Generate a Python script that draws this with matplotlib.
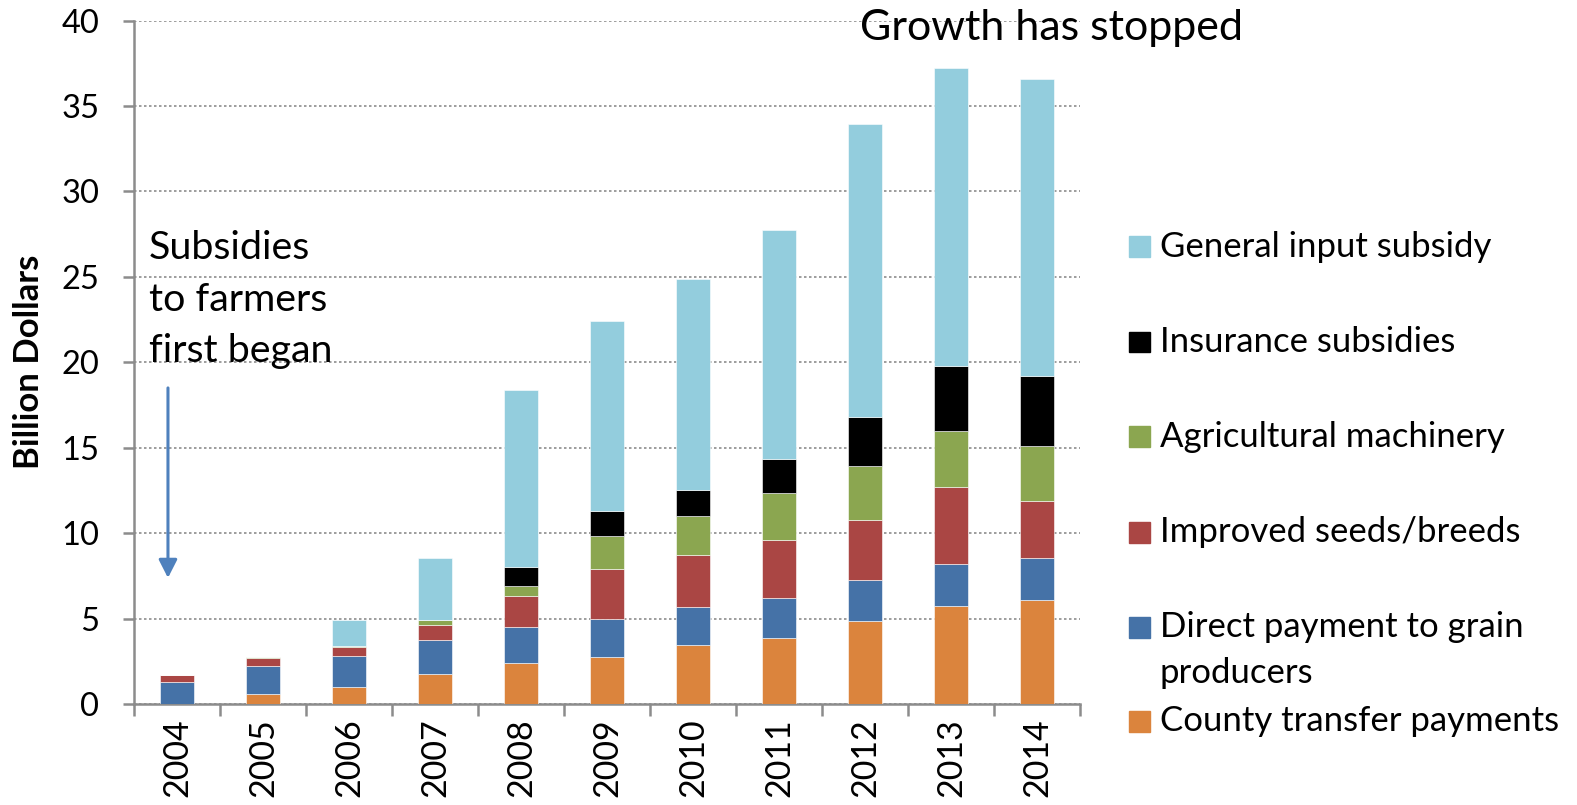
import matplotlib
matplotlib.use("Agg")
import matplotlib.pyplot as plt
import numpy as np
from matplotlib.patches import Rectangle

plt.rcParams['font.family'] = ['Lato', 'DejaVu Sans']

# Datos (bilhoes de dolares)
anos = ["2004", "2005", "2006", "2007", "2008", "2009", "2010", "2011", "2012", "2013", "2014"]
county = [0.0, 0.60, 1.01, 1.77, 2.38, 2.77, 3.47, 3.88, 4.88, 5.74, 6.11]
direct = [1.31, 1.62, 1.78, 2.00, 2.15, 2.22, 2.23, 2.34, 2.39, 2.46, 2.46]
seeds = [0.39, 0.45, 0.53, 0.87, 1.79, 2.91, 3.04, 3.40, 3.50, 4.49, 3.33]
machinery = [0.0, 0.06, 0.06, 0.26, 0.57, 1.94, 2.28, 2.72, 3.15, 3.27, 3.20]
insurance = [0.0, 0.0, 0.0, 0.0, 1.15, 1.44, 1.49, 2.02, 2.90, 3.84, 4.09]
general = [0.0, 0.0, 1.56, 3.63, 10.33, 11.13, 12.39, 13.37, 17.11, 17.45, 17.38]

series_labels = ["County transfer payments", "Direct payment to grain\nproducers",
                 "Improved seeds/breeds", "Agricultural machinery",
                 "Insurance subsidies", "General input subsidy"]
cores = ["#DB843D", "#4572A7", "#AA4644", "#8BA650", "#000000", "#93CDDD"]

W, H = 1577, 805
fig = plt.figure(figsize=(W / 100, H / 100), dpi=100)
ax = fig.add_axes([134 / W, 1 - 704 / H, 946 / W, (704 - 20.6) / H])

x = np.arange(len(anos))
base = np.zeros(len(anos))
for valores, cor in zip([county, direct, seeds, machinery, insurance, general], cores):
    ax.bar(x, valores, width=0.4, bottom=base, color=cor, edgecolor="white",
           linewidth=0.4, zorder=3)
    base += np.array(valores)

ax.set_xlim(-0.5, 10.5)
ax.set_ylim(0, 40)
ax.set_yticks(np.arange(0, 41, 5))
ax.yaxis.grid(True, linestyle=(0, (1.5, 1.5)), color="#8c8c8c", linewidth=1.2, zorder=0)

for lado in ["top", "right"]:
    ax.spines[lado].set_visible(False)
for lado in ["left", "bottom"]:
    ax.spines[lado].set_color("#8c8c8c")
    ax.spines[lado].set_linewidth(1.8)

ax.set_xticks(x)
ax.set_xticklabels(anos, rotation=90, fontsize=24.5)
ax.set_xticks(np.arange(-0.5, 11, 1), minor=True)
ax.tick_params(axis="x", which="major", length=0, pad=10)
ax.tick_params(axis="x", which="minor", length=8.6, width=1.8, color="#8c8c8c")
ax.tick_params(axis="y", length=8, width=1.8, color="#8c8c8c", labelsize=23.5, pad=17)

ax.set_ylabel("Billion Dollars", fontsize=25, fontweight="bold")
ax.yaxis.set_label_coords(-0.094, 0.5)

# anotacoes
fig.text(860 / W, 1 - 28 / H, "Growth has stopped", fontsize=31, va="center", ha="left")
for linha, yy in zip(["Subsidies", "to farmers", "first began"], [248, 300, 351]):
    fig.text(149 / W, 1 - yy / H, linha, fontsize=28.4, va="center", ha="left")
ax.annotate("", xy=(-0.105, 7.38), xytext=(-0.105, 18.5),
            arrowprops=dict(arrowstyle="-|>,head_width=0.28,head_length=0.55",
                            mutation_scale=20, color="#4F81BD", lw=2.2,
                            shrinkA=0, shrinkB=0))

# legenda manual
leg_y = [721, 627, 532, 437, 342, 247]
for cor, rotulo, yy in zip(cores, series_labels, leg_y):
    fig.patches.append(Rectangle((1129 / W, 1 - (yy + 10.5) / H), 21 / W, 21 / H,
                                 transform=fig.transFigure, color=cor, figure=fig))
    for k, parte in enumerate(rotulo.split("\n")):
        fig.text(1160 / W, 1 - (yy + 46 * k) / H, parte, fontsize=25,
                 va="center", ha="left")

fig.savefig("out.png", dpi=100)
